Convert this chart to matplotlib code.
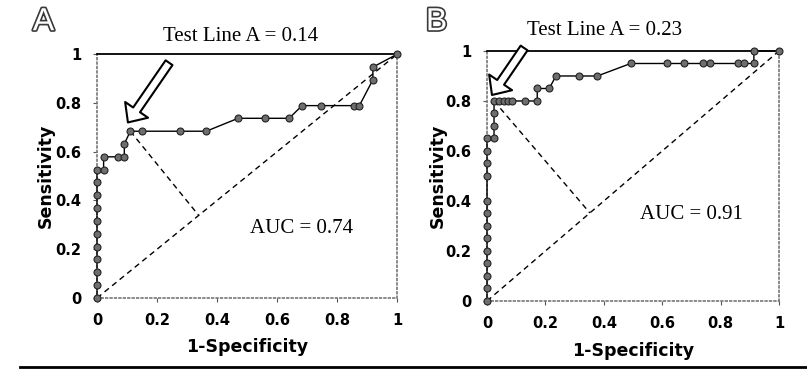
import matplotlib.pyplot as plt
import matplotlib.patheffects as pe
from matplotlib.patches import FancyArrowPatch
from matplotlib.lines import Line2D

# --- data ---
a_fpr = [0, 0, 0, 0, 0, 0, 0, 0, 0, 0, 0,
         0.022, 0.022, 0.069, 0.091, 0.091, 0.111, 0.150, 0.278, 0.364,
         0.470, 0.559, 0.640, 0.683, 0.747, 0.856, 0.874, 0.919, 0.919, 1.0]
a_tpr = [0, 0.053, 0.105, 0.158, 0.211, 0.263, 0.316, 0.368, 0.421, 0.474, 0.526,
         0.526, 0.579, 0.579, 0.579, 0.632, 0.684, 0.684, 0.684, 0.684,
         0.737, 0.737, 0.737, 0.789, 0.789, 0.789, 0.789, 0.895, 0.947, 1.0]
a_best = (0.111, 0.684)

b_fpr = [0, 0, 0, 0, 0, 0, 0, 0, 0, 0, 0, 0, 0,
         0.024, 0.024, 0.024, 0.024, 0.041, 0.058, 0.072, 0.087, 0.130, 0.172,
         0.172, 0.213, 0.236, 0.316, 0.378, 0.492, 0.615, 0.675, 0.740, 0.763,
         0.860, 0.880, 0.914, 0.914, 1.0]
b_tpr = [0, 0.05, 0.10, 0.15, 0.20, 0.25, 0.30, 0.35, 0.40, 0.50, 0.55, 0.60, 0.65,
         0.65, 0.70, 0.75, 0.80, 0.80, 0.80, 0.80, 0.80, 0.80, 0.80,
         0.85, 0.85, 0.90, 0.90, 0.90, 0.95, 0.95, 0.95, 0.95, 0.95,
         0.95, 0.95, 0.95, 1.0, 1.0]
b_best = (0.024, 0.80)

ticks = [0, 0.2, 0.4, 0.6, 0.8, 1]
tick_labels = ['0', '0.2', '0.4', '0.6', '0.8', '1']

panels = [
    dict(letter='A', fpr=a_fpr, tpr=a_tpr, best=a_best,
         title='Test Line A = 0.14', auc='AUC = 0.74',
         pos=[0.1202, 0.1946, 0.372, 0.659], letter_x=0.054,
         title_xy=(0.477, 1.072), auc_xy=(0.68, 0.287),
         arrow=((0.240, 0.965), (0.103, 0.720))),
    dict(letter='B', fpr=b_fpr, tpr=b_tpr, best=b_best,
         title='Test Line A = 0.23', auc='AUC = 0.91',
         pos=[0.6035, 0.1865, 0.3618, 0.6757], letter_x=0.541,
         title_xy=(0.404, 1.08), auc_xy=(0.70, 0.344),
         arrow=((0.127, 1.012), (0.017, 0.824))),
]

W, H = 807, 370
fig = plt.figure(figsize=(W / 100, H / 100), dpi=100)
plt.rcParams['font.family'] = ['DejaVu Sans']

for p in panels:
    ax = fig.add_axes(p['pos'])
    ax.set_xlim(0, 1)
    ax.set_ylim(0, 1)

    # diagonal chance line
    ax.plot([0, 1], [0, 1], ls=(0, (4, 3)), color='black', lw=1)

    # perpendicular from best point to the diagonal (in screen space)
    w_px = p['pos'][2] * W
    h_px = p['pos'][3] * H
    bx, by = p['best']
    t = (bx * w_px ** 2 + by * h_px ** 2) / (w_px ** 2 + h_px ** 2)
    ax.plot([bx, t], [by, t], ls=(0, (4, 3)), color='black', lw=1)

    # ROC curve
    ax.plot(p['fpr'], p['tpr'], color='black', lw=1, marker='o', ms=5,
            mfc='#6e6e6e', mec='#222222', mew=0.8, clip_on=False, zorder=3)

    # hollow block arrow
    arr = FancyArrowPatch(p['arrow'][0], p['arrow'][1],
                          arrowstyle='simple,head_width=2.0,head_length=1.1,tail_width=0.6',
                          mutation_scale=10, fc='white', ec='black', lw=1.5,
                          shrinkA=0, shrinkB=0, clip_on=False, zorder=4)
    ax.add_patch(arr)

    ax.text(*p['title_xy'], p['title'], transform=ax.transAxes, ha='center',
            va='center', fontsize=15, family='Liberation Serif')
    ax.text(*p['auc_xy'], p['auc'], transform=ax.transAxes, ha='center',
            va='center', fontsize=15, family='Liberation Serif')

    fig.text(p['letter_x'], 0.94, p['letter'], ha='center', va='center',
             fontsize=23, color='white', family='Liberation Sans',
             path_effects=[pe.withStroke(linewidth=2.4, foreground='#3a3a3a')])

    # spines: solid top, dotted grey elsewhere
    ax.spines['top'].set_color('black')
    ax.spines['top'].set_linewidth(1.3)
    for s in ['left', 'bottom', 'right']:
        ax.spines[s].set_color('#777777')
        ax.spines[s].set_linestyle(':')
        ax.spines[s].set_linewidth(1.2)

    ax.set_xticks(ticks)
    ax.set_xticklabels(tick_labels)
    ax.set_yticks(ticks)
    ax.set_yticklabels(tick_labels)
    ax.tick_params(direction='out', length=3, width=0.8, color='#555555',
                   labelsize=10.5, pad=8)
    for lab in ax.get_xticklabels() + ax.get_yticklabels():
        lab.set_fontweight('bold')

    ax.set_xlabel('1-Specificity', fontsize=12.5, fontweight='bold', va='center')
    ax.set_ylabel('Sensitivity', fontsize=12.5, fontweight='bold', va='center')
    ax.xaxis.set_label_coords(0.5, -0.2)
    ax.yaxis.set_label_coords(-0.17, 0.5)

# rule under the figure
fig.add_artist(Line2D([0.025, 1.0], [0.008, 0.008], color='black', lw=2))

fig.savefig('out.png', dpi=100)
